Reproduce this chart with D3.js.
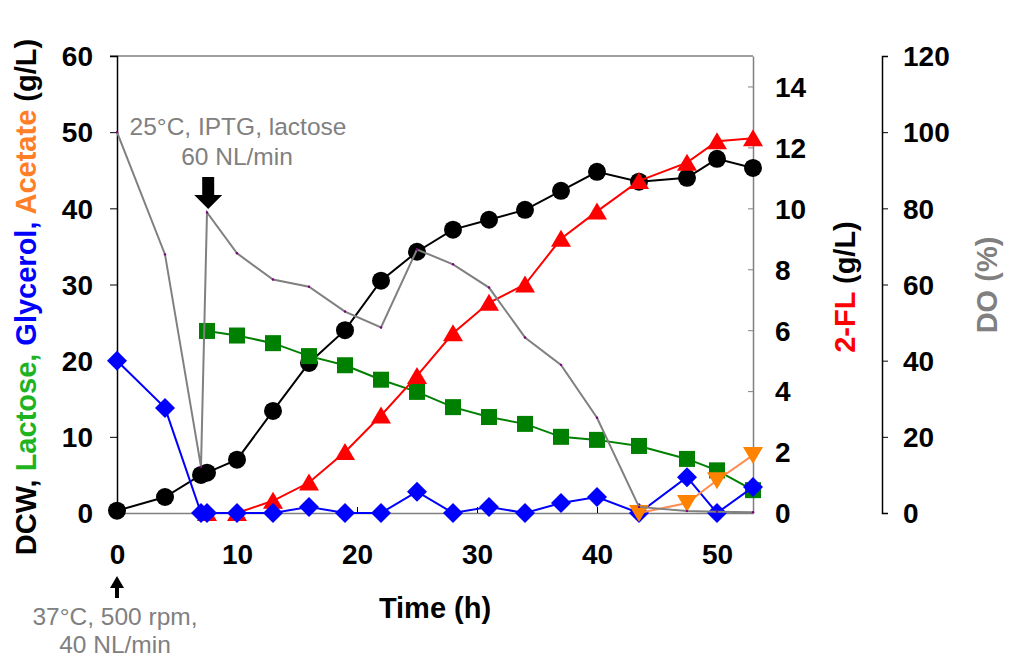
<!DOCTYPE html>
<html>
<head>
<meta charset="utf-8">
<script src="https://cdn.jsdelivr.net/npm/d3@7"></script>
<style>
  body { margin: 0; background: #fff; }
  svg text { font-family: "Liberation Sans", Arial, sans-serif; }
  .tick-label { font-size: 28px; font-weight: bold; fill: #000; }
  .title { font-size: 29px; font-weight: bold; }
  .note { font-size: 24.5px; fill: #808080; }
</style>
</head>
<body>
<svg id="chart" width="1009" height="661"></svg>
<script>
// sampling times (h)
const time = [0, 4, 7, 7.5, 10, 13, 16, 19, 22, 25, 28, 31, 34, 37, 40, 43.5, 47.5, 50, 53];
const dcw = [0.3, 2.1, 5.0, 5.3, 7.0, 13.4, 19.7, 24.0, 30.5, 34.3, 37.2, 38.5, 39.8, 42.3, 44.8, 43.5, 44.0, 46.5, 45.3];
const glycerol = [20, 13.8, 0, 0, 0, 0, 0.8, 0, 0, 2.8, 0, 0.8, 0, 1.3, 2.1, 0, 4.7, 0, 3.4];
const dissolvedO2 = [100, 67.9, 12.1, 78.9, 68.2, 61.3, 59.4, 52.9, 48.7, 69.2, 65.3, 59.2, 46.1, 38.9, 25.0, 1.6, 0.5, 0.3, 0.2];

// after induction
const timeInd = [7.5, 10, 13, 16, 19, 22, 25, 28, 31, 34, 37, 40, 43.5, 47.5, 50, 53];
const lactose = [23.9, 23.3, 22.3, 20.6, 19.4, 17.5, 15.9, 13.9, 12.6, 11.7, 10.0, 9.6, 8.8, 7.1, 5.6, 3.0];
const fl2 = [0, 0, 0.4, 1.0, 2.0, 3.2, 4.5, 5.9, 6.9, 7.5, 9.0, 9.9, 10.9, 11.5, 12.2, 12.3];

const timeAce = [43.5, 47.5, 50, 53];
const acetate = [0, 1.3, 4.3, 7.6];

const xTicks = [0, 10, 20, 30, 40, 50];
const leftTicks = [0, 10, 20, 30, 40, 50, 60];
const flTicks = [0, 2, 4, 6, 8, 10, 12, 14];
const doTicks = [0, 20, 40, 60, 80, 100, 120];

const svg = d3.select("#chart");
const L = 117, R = 753, T = 56, B = 513;

const x = d3.scaleLinear().domain([0, 53]).range([L, R]);
const yL = d3.scaleLinear().domain([0, 60]).range([B, T]);
const yF = d3.scaleLinear().domain([0, 15]).range([B, T]);
const yD = d3.scaleLinear().domain([0, 120]).range([B, T]);

// plot frame top line
svg.append("line").attr("x1", L - 7).attr("x2", R).attr("y1", T).attr("y2", T)
  .attr("stroke", "#808080").attr("stroke-width", 1.5);

// x axis
const gx = svg.append("g").attr("transform", `translate(0,${B})`)
  .call(d3.axisBottom(x).tickValues(xTicks).tickSizeInner(-6).tickSizeOuter(0).tickPadding(30));
gx.select(".domain").attr("stroke", "#808080").attr("stroke-width", 1.5);
gx.selectAll(".tick line").attr("stroke", "#000");
gx.selectAll("text").attr("class", "tick-label").attr("dy", 0).attr("y", 51);

// left axis
const gl = svg.append("g").attr("transform", `translate(${L},0)`)
  .call(d3.axisLeft(yL).tickValues(leftTicks).tickSize(7).tickPadding(17));
gl.select(".domain").attr("stroke", "#000").attr("stroke-width", 1.5);
gl.selectAll("text").attr("class", "tick-label").attr("dy", "0.35em");

// 2-FL axis (inner ticks)
const gf = svg.append("g").attr("transform", `translate(${R},0)`)
  .call(d3.axisRight(yF).tickValues(flTicks).tickSizeInner(-5).tickSizeOuter(0).tickPadding(22));
gf.select(".domain").attr("stroke", "#808080").attr("stroke-width", 1.5);
gf.selectAll(".tick line").attr("stroke", "#808080");
gf.selectAll("text").attr("class", "tick-label").attr("dy", "0.35em");

// DO axis
const gd = svg.append("g").attr("transform", `translate(882,0)`)
  .call(d3.axisRight(yD).tickValues(doTicks).tickSize(6).tickPadding(15));
gd.select(".domain").attr("stroke", "#000").attr("stroke-width", 1.5);
gd.selectAll("text").attr("class", "tick-label").attr("dy", "0.35em");

// series helpers
function series(xs, ys, yScale, color, width) {
  const pts = xs.map((t, i) => [x(t), yScale(ys[i])]);
  svg.append("path").attr("d", d3.line()(pts))
    .attr("fill", "none").attr("stroke", color).attr("stroke-width", width || 2);
  return pts;
}
function markers(pts, shape, color) {
  const g = svg.append("g").attr("fill", color);
  pts.forEach(([px, py]) => {
    if (shape === "circle") g.append("circle").attr("cx", px).attr("cy", py).attr("r", 9);
    else if (shape === "square") g.append("rect").attr("x", px - 8).attr("y", py - 8).attr("width", 16).attr("height", 16);
    else if (shape === "diamond") g.append("path").attr("d", `M${px},${py - 10}L${px + 10},${py}L${px},${py + 10}L${px - 10},${py}Z`);
    else if (shape === "up") g.append("path").attr("d", `M${px},${py - 9}L${px + 10},${py + 8}L${px - 10},${py + 8}Z`);
    else if (shape === "down") g.append("path").attr("d", `M${px - 10},${py - 8}L${px + 10},${py - 8}L${px},${py + 9}Z`);
  });
}

markers(series(time, dcw, yL, "#000"), "circle", "#000");
markers(series(timeInd, lactose, yL, "#008000"), "square", "#008000");
markers(series(timeInd, fl2, yF, "#ff0000"), "up", "#ff0000");
markers(series(time, glycerol, yL, "#0000ff"), "diamond", "#0000ff");
svg.append("path").attr("d", d3.line()(timeAce.map((t, i) => [x(t), yL(acetate[i])])))
  .attr("fill", "none").attr("stroke", "#ff8c50").attr("stroke-width", 2);
markers(timeAce.map((t, i) => [x(t), yL(acetate[i])]), "down", "#ff8200");
const doPts = series(time, dissolvedO2, yD, "#808080", 2);
svg.append("g").selectAll("circle").data(doPts).join("circle")
  .attr("cx", d => d[0]).attr("cy", d => d[1]).attr("r", 1.2).attr("fill", "#800080");

// axis titles
svg.append("text").attr("class", "title").attr("text-anchor", "middle")
  .attr("x", x(26.5)).attr("y", 618).text("Time (h)");

const lt = svg.append("text").attr("class", "title").attr("text-anchor", "middle")
  .attr("transform", "translate(36,297) rotate(-90)");
[["DCW, ", "#000"], ["Lactose, ", "#1fb31f"], ["Glycerol, ", "#0000ff"], ["Acetate ", "#ff7f27"], ["(g/L)", "#000"]]
  .forEach(([s, c]) => lt.append("tspan").attr("fill", c).text(s));

const ft = svg.append("text").attr("class", "title").attr("text-anchor", "middle")
  .attr("transform", "translate(855,287) rotate(-90)");
ft.append("tspan").attr("fill", "#ff0000").text("2-FL ");
ft.append("tspan").attr("fill", "#000").text("(g/L)");

svg.append("text").attr("class", "title").attr("text-anchor", "middle").attr("fill", "#808080")
  .attr("transform", "translate(997,285) rotate(-90)").text("DO (%)");

// annotations
svg.append("text").attr("class", "note").attr("text-anchor", "middle")
  .attr("x", 238).attr("y", 135).text("25°C, IPTG, lactose");
svg.append("text").attr("class", "note").attr("text-anchor", "middle")
  .attr("x", 237).attr("y", 165).text("60 NL/min");
// block arrow down at induction
const ax = x(7.6);
svg.append("path")
  .attr("d", `M${ax - 6},177L${ax + 6},177L${ax + 6},195L${ax + 14},195L${ax},209L${ax - 14},195L${ax - 6},195Z`)
  .attr("fill", "#000");

// start arrow below axis
svg.append("line").attr("x1", x(0)).attr("x2", x(0)).attr("y1", 598).attr("y2", 586)
  .attr("stroke", "#000").attr("stroke-width", 4);
svg.append("path").attr("d", `M${x(0)},576L${x(0) + 7},588L${x(0) - 7},588Z`).attr("fill", "#000");
svg.append("text").attr("class", "note").attr("text-anchor", "middle")
  .attr("x", 115).attr("y", 625).text("37°C, 500 rpm,");
svg.append("text").attr("class", "note").attr("text-anchor", "middle")
  .attr("x", 115).attr("y", 653).text("40 NL/min");
</script>
</body>
</html>
